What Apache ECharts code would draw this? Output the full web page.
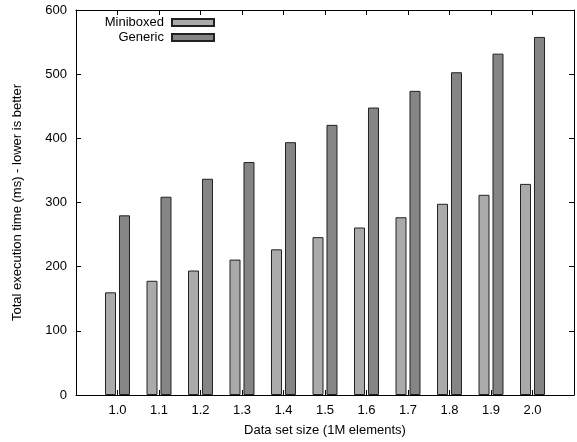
<!DOCTYPE html>
<html>
<head>
<meta charset="utf-8">
<script src="https://cdn.jsdelivr.net/npm/echarts@6/dist/echarts.min.js"></script>
<style>
html,body{margin:0;padding:0;background:#fff;}
#chart{width:577px;height:442px;}
</style>
</head>
<body>
<div id="chart"></div>
<script>
const categories = ['1.0','1.1','1.2','1.3','1.4','1.5','1.6','1.7','1.8','1.9','2.0'];
const miniboxed = [160, 178, 194, 211, 227, 246, 261, 277, 298, 312, 329];
const generic = [280, 309, 337, 363, 394, 421, 448, 474, 503, 532, 558];
const yTicks = [0, 100, 200, 300, 400, 500, 600];

const FONT = 'Liberation Sans';
const chart = echarts.init(document.getElementById('chart'), null, {renderer: 'canvas'});

function pairs(arr) { return arr.map((v, i) => [i, v]); }
function catLabel(v) {
  const i = Math.round(v);
  return (i >= 0 && i < categories.length && Math.abs(v - i) < 1e-6) ? categories[i] : '';
}

const axisLine = {show: true, onZero: false, lineStyle: {color: '#000', width: 1}};
const tick = {show: true, inside: true, length: 5, lineStyle: {color: '#000', width: 1}};

chart.setOption({
  animation: false,
  backgroundColor: '#fff',
  textStyle: {fontFamily: FONT},
  grid: {left: 76, top: 10, right: -3, bottom: 45, containLabel: false},
  legend: [
    {
      data: ['Miniboxed'], orient: 'vertical', align: 'right', icon: 'rect',
      right: 362, top: 16, itemWidth: 42, itemHeight: 7, padding: 0,
      selectedMode: false,
      textStyle: {fontFamily: FONT, fontSize: 13, color: '#000', padding: [0, 3, 0, 0]}
    },
    {
      data: ['Generic'], orient: 'vertical', align: 'right', icon: 'rect',
      right: 362, top: 31, itemWidth: 42, itemHeight: 7, padding: 0,
      selectedMode: false,
      textStyle: {fontFamily: FONT, fontSize: 13, color: '#000', padding: [0, 3, 0, 0]}
    }
  ],
  xAxis: [
    {
      type: 'value', min: -1, max: 11, interval: 1, position: 'bottom',
      name: 'Data set size (1M elements)', nameLocation: 'middle', nameGap: 29,
      nameTextStyle: {fontFamily: FONT, fontSize: 13, color: '#000'},
      axisLine: axisLine, axisTick: tick, splitLine: {show: false},
      axisLabel: {formatter: catLabel, fontFamily: FONT, fontSize: 13, color: '#000', margin: 9,
        showMinLabel: true, showMaxLabel: true}
    },
    {
      type: 'value', min: -1, max: 11, interval: 1, position: 'top',
      axisLine: axisLine, axisTick: tick, splitLine: {show: false},
      axisLabel: {show: false}
    }
  ],
  yAxis: [
    {
      type: 'value', min: 0, max: 600, interval: 100, position: 'left',
      name: 'Total execution time (ms) - lower is better', nameLocation: 'middle', nameGap: 52,
      nameTextStyle: {fontFamily: FONT, fontSize: 13, color: '#000'},
      axisLine: axisLine, axisTick: tick, splitLine: {show: false},
      axisLabel: {fontFamily: FONT, fontSize: 13, color: '#000', margin: 9,
        formatter: v => (yTicks.indexOf(v) >= 0 ? String(v) : '')}
    },
    {
      type: 'value', min: 0, max: 600, interval: 100, position: 'right',
      axisLine: axisLine, axisTick: tick, splitLine: {show: false},
      axisLabel: {show: false}
    }
  ],
  series: [
    {
      name: 'Miniboxed', type: 'bar', xAxisIndex: 0, yAxisIndex: 0,
      data: pairs(miniboxed), barWidth: 11, barGap: '27%',
      itemStyle: {color: '#aaaaaa', borderColor: '#222', borderWidth: 1}
    },
    {
      name: 'Generic', type: 'bar', xAxisIndex: 0, yAxisIndex: 0,
      data: pairs(generic), barWidth: 11, barGap: '27%',
      itemStyle: {color: '#858585', borderColor: '#222', borderWidth: 1}
    }
  ]
});
</script>
</body>
</html>
